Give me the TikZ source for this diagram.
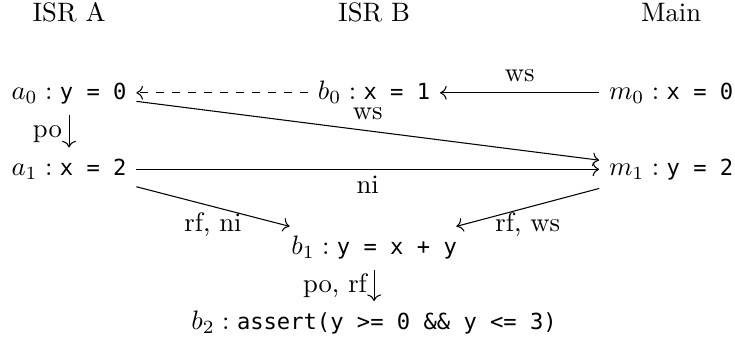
\documentclass[tikz,border=0pt]{standalone}
\usepackage{fontspec}
\setmonofont[Scale=0.83]{DejaVu Sans Mono}
\usetikzlibrary{arrows.meta,positioning}

\begin{document}
\begin{tikzpicture}[
  node distance=12.3pt,
  ev/.style={inner sep=3.5pt,text height=7pt,text depth=2pt},
  lbl/.style={inner sep=2.5pt,text height=6.5pt,text depth=1.5pt},
  arr/.style={-{To}}
]
\useasboundingbox (-25.9pt,34.8pt) rectangle (249.75pt,-94.6pt);
% events, one column per thread
\node[ev] (a0) at (0,0) {$a_0:\texttt{y = 0}$};
\node[ev] (b0) at (114.4pt,0) {$b_0:\texttt{x = 1}$};
\node[ev] (m0) at (225.8pt,0) {$m_0:\texttt{x = 0}$};
\node[ev,below=of a0] (a1) {$a_1:\texttt{x = 2}$};
\node[ev,below=of m0] (m1) {$m_1:\texttt{y = 2}$};
\node[ev,below=41.9pt of b0] (b1) {$b_1:\texttt{y = x + y}$};
\node[ev,below=11.6pt of b1] (b2) {$b_2:\texttt{assert(y >= 0 \&\& y <= 3)}$};
% thread names
\node[ev,above=12.7pt of a0] (isrA) {ISR A};
\node[ev,above=12.7pt of b0] (isrB) {ISR B};
\node[ev,above=12.7pt of m0] (main) {Main};
% relations
\draw[arr,dashed] (b0) -- (a0);
\draw[arr] (m0) -- node[lbl,above]{ws} (b0);
\draw[arr] (a0) -- node[lbl,above]{ws} (m1);
\draw[arr] (a0) -- node[lbl,left]{po} (a1);
\draw[arr] (a1) -- node[lbl,below]{ni} (m1);
\draw[arr] (a1) -- node[lbl,below]{rf, ni} (b1);
\draw[arr] (m1) -- node[lbl,below]{rf, ws} (b1);
\draw[arr] (b1) -- node[lbl,left]{po, rf} (b2);
\end{tikzpicture}
\end{document}
